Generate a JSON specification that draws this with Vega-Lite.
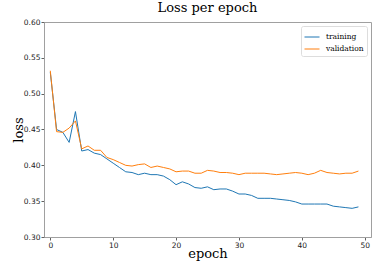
{
  "$schema": "https://vega.github.io/schema/vega-lite/v6.json",
  "width": 327,
  "height": 215,
  "autosize": {"type": "none"},
  "padding": {"left": 44, "top": 22, "right": 10, "bottom": 35},
  "background": "white",
  "title": {"text": "Loss per epoch", "font": "DejaVu Serif", "fontSize": 13, "fontWeight": "normal", "color": "#000000", "anchor": "middle", "offset": 3},
  "data": {"values": [
    {"epoch":0,"series":"training","loss":0.530},{"epoch":1,"series":"training","loss":0.450},{"epoch":2,"series":"training","loss":0.446},{"epoch":3,"series":"training","loss":0.432},{"epoch":4,"series":"training","loss":0.475},
    {"epoch":5,"series":"training","loss":0.420},{"epoch":6,"series":"training","loss":0.422},{"epoch":7,"series":"training","loss":0.417},{"epoch":8,"series":"training","loss":0.415},{"epoch":9,"series":"training","loss":0.409},
    {"epoch":10,"series":"training","loss":0.403},{"epoch":11,"series":"training","loss":0.397},{"epoch":12,"series":"training","loss":0.391},{"epoch":13,"series":"training","loss":0.390},{"epoch":14,"series":"training","loss":0.387},
    {"epoch":15,"series":"training","loss":0.389},{"epoch":16,"series":"training","loss":0.387},{"epoch":17,"series":"training","loss":0.387},{"epoch":18,"series":"training","loss":0.385},{"epoch":19,"series":"training","loss":0.380},
    {"epoch":20,"series":"training","loss":0.373},{"epoch":21,"series":"training","loss":0.377},{"epoch":22,"series":"training","loss":0.374},{"epoch":23,"series":"training","loss":0.369},{"epoch":24,"series":"training","loss":0.368},
    {"epoch":25,"series":"training","loss":0.370},{"epoch":26,"series":"training","loss":0.366},{"epoch":27,"series":"training","loss":0.367},{"epoch":28,"series":"training","loss":0.367},{"epoch":29,"series":"training","loss":0.364},
    {"epoch":30,"series":"training","loss":0.360},{"epoch":31,"series":"training","loss":0.360},{"epoch":32,"series":"training","loss":0.358},{"epoch":33,"series":"training","loss":0.354},{"epoch":34,"series":"training","loss":0.354},
    {"epoch":35,"series":"training","loss":0.354},{"epoch":36,"series":"training","loss":0.353},{"epoch":37,"series":"training","loss":0.352},{"epoch":38,"series":"training","loss":0.351},{"epoch":39,"series":"training","loss":0.349},
    {"epoch":40,"series":"training","loss":0.346},{"epoch":41,"series":"training","loss":0.346},{"epoch":42,"series":"training","loss":0.346},{"epoch":43,"series":"training","loss":0.346},{"epoch":44,"series":"training","loss":0.346},
    {"epoch":45,"series":"training","loss":0.343},{"epoch":46,"series":"training","loss":0.342},{"epoch":47,"series":"training","loss":0.341},{"epoch":48,"series":"training","loss":0.340},{"epoch":49,"series":"training","loss":0.342},
    {"epoch":0,"series":"validation","loss":0.532},{"epoch":1,"series":"validation","loss":0.447},{"epoch":2,"series":"validation","loss":0.446},{"epoch":3,"series":"validation","loss":0.452},{"epoch":4,"series":"validation","loss":0.462},
    {"epoch":5,"series":"validation","loss":0.423},{"epoch":6,"series":"validation","loss":0.427},{"epoch":7,"series":"validation","loss":0.421},{"epoch":8,"series":"validation","loss":0.421},{"epoch":9,"series":"validation","loss":0.411},
    {"epoch":10,"series":"validation","loss":0.408},{"epoch":11,"series":"validation","loss":0.404},{"epoch":12,"series":"validation","loss":0.400},{"epoch":13,"series":"validation","loss":0.399},{"epoch":14,"series":"validation","loss":0.401},
    {"epoch":15,"series":"validation","loss":0.402},{"epoch":16,"series":"validation","loss":0.397},{"epoch":17,"series":"validation","loss":0.399},{"epoch":18,"series":"validation","loss":0.397},{"epoch":19,"series":"validation","loss":0.395},
    {"epoch":20,"series":"validation","loss":0.391},{"epoch":21,"series":"validation","loss":0.392},{"epoch":22,"series":"validation","loss":0.392},{"epoch":23,"series":"validation","loss":0.389},{"epoch":24,"series":"validation","loss":0.389},
    {"epoch":25,"series":"validation","loss":0.393},{"epoch":26,"series":"validation","loss":0.392},{"epoch":27,"series":"validation","loss":0.390},{"epoch":28,"series":"validation","loss":0.390},{"epoch":29,"series":"validation","loss":0.389},
    {"epoch":30,"series":"validation","loss":0.387},{"epoch":31,"series":"validation","loss":0.389},{"epoch":32,"series":"validation","loss":0.389},{"epoch":33,"series":"validation","loss":0.389},{"epoch":34,"series":"validation","loss":0.389},
    {"epoch":35,"series":"validation","loss":0.388},{"epoch":36,"series":"validation","loss":0.387},{"epoch":37,"series":"validation","loss":0.388},{"epoch":38,"series":"validation","loss":0.389},{"epoch":39,"series":"validation","loss":0.390},
    {"epoch":40,"series":"validation","loss":0.389},{"epoch":41,"series":"validation","loss":0.387},{"epoch":42,"series":"validation","loss":0.389},{"epoch":43,"series":"validation","loss":0.393},{"epoch":44,"series":"validation","loss":0.390},
    {"epoch":45,"series":"validation","loss":0.389},{"epoch":46,"series":"validation","loss":0.388},{"epoch":47,"series":"validation","loss":0.389},{"epoch":48,"series":"validation","loss":0.389},{"epoch":49,"series":"validation","loss":0.392}
  ]},
  "mark": {"type": "line", "strokeWidth": 1},
  "encoding": {
    "x": {"field": "epoch", "type": "quantitative", "scale": {"domain": [-1, 51], "nice": false, "zero": false},
      "axis": {"values": [0, 10, 20, 30, 40, 50], "title": "epoch", "titleFont": "DejaVu Serif", "titleFontSize": 13, "titleFontWeight": "normal", "titleColor": "#000000", "titlePadding": -1, "labelPadding": 1}},
    "y": {"field": "loss", "type": "quantitative", "scale": {"domain": [0.3, 0.6], "nice": false, "zero": false},
      "axis": {"values": [0.3, 0.35, 0.4, 0.45, 0.5, 0.55, 0.6], "format": ".2f", "title": "loss", "titleFont": "DejaVu Serif", "titleFontSize": 13, "titleFontWeight": "normal", "titleColor": "#000000", "titlePadding": -2, "labelPadding": 1}},
    "color": {"field": "series", "type": "nominal",
      "scale": {"domain": ["training", "validation"], "range": ["#1f77b4", "#ff7f0e"]},
      "legend": {"title": null, "orient": "top-right", "offset": 4, "symbolType": "stroke", "symbolSize": 225, "symbolStrokeWidth": 1, "labelFont": "DejaVu Serif", "labelFontSize": 7.5, "labelColor": "#000000", "labelOffset": 6, "rowPadding": -5, "padding": 3, "strokeColor": "#dddddd", "fillColor": "#ffffff", "cornerRadius": 2}}
  },
  "config": {
    "view": {"stroke": "#a0a0a0", "strokeWidth": 1},
    "axis": {"grid": false, "domainColor": "#a0a0a0", "domainWidth": 1, "tickColor": "#606060", "tickSize": 3, "labelFont": "DejaVu Sans", "labelFontSize": 7.5, "labelColor": "#222222"}
  }
}
